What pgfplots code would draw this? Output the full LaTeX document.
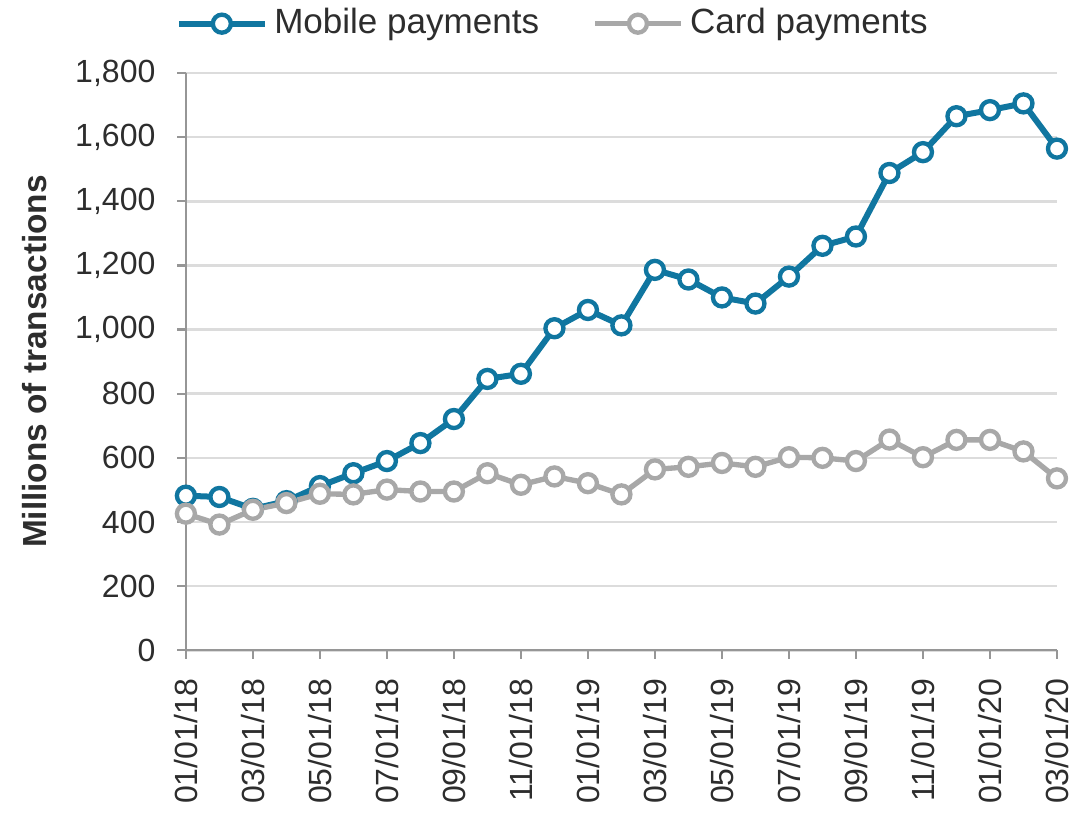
\documentclass[border=0pt]{standalone}
\usepackage{pgfplots}
\pgfplotsset{compat=1.18}
\usepackage{fontspec}
\setmainfont{Liberation Sans}
\definecolor{mob}{RGB}{16,118,160}
\definecolor{card}{RGB}{168,168,168}
\definecolor{gridc}{RGB}{220,220,220}
\definecolor{axc}{RGB}{150,150,150}
\definecolor{txt}{RGB}{45,45,45}

\pgfplotstableread{
idx mobile card
0 482 426
1 478 392
2 441 438
3 465 459
4 512 488
5 552 486
6 590 501
7 646 495
8 721 495
9 846 552
10 862 516
11 1004 542
12 1061 521
13 1013 486
14 1186 564
15 1156 572
16 1100 584
17 1081 572
18 1165 602
19 1261 600
20 1290 590
21 1488 657
22 1553 602
23 1665 656
24 1684 656
25 1705 620
26 1564 536
}\datatable

\begin{document}
\begin{tikzpicture}
\begin{axis}[
  name=ax,
  scale only axis,
  width=261pt, height=173pt,
  xmin=0, xmax=26, ymin=0, ymax=1800,
  axis lines=left,
  axis line style={-, draw=axc, line width=0.7pt},
  xtick={0,2,...,26},
  xticklabels={01/01/18,03/01/18,05/01/18,07/01/18,09/01/18,11/01/18,01/01/19,03/01/19,05/01/19,07/01/19,09/01/19,11/01/19,01/01/20,03/01/20},
  x tick label style={yshift=-2.5pt, rotate=90, anchor=east, font=\fontsize{9.6}{11}\selectfont, text=txt},
  ytick={0,200,...,1800},
  y tick label style={font=\fontsize{9.6}{11}\selectfont, text=txt, xshift=-3pt},
  /pgf/number format/.cd, 1000 sep={,}, assume math mode=true, /pgfplots/.cd,
  ymajorgrids,
  grid style={gridc, line width=0.8pt},
  tick align=outside,
  major tick length=2.6pt,
  tick style={axc, line width=0.7pt},
  ylabel={\textbf{Millions of transactions}},
  ylabel style={font=\fontsize{10}{12}\selectfont, text=txt, yshift=1.5pt},
  legend style={at={(0.424,1)}, anchor=south, yshift=6pt, draw=none, fill=none,
    font=\fontsize{10.5}{12}\selectfont, text=txt, /tikz/every even column/.append style={column sep=14pt}},
  legend columns=2,
  legend cell align=left,
  legend image code/.code={
    \draw[mark repeat=2, mark phase=2, #1] plot coordinates {(0cm,0cm) (0.45cm,0cm) (0.9cm,0cm)};
  },
  clip=false,
]
\addplot[mob, line width=1.8pt, mark=*, mark size=2.7pt,
  mark options={fill=white, draw=mob, line width=1.3pt}]
  table[x=idx, y=mobile] {\datatable};
\addlegendentry{Mobile payments}
\addplot[card, line width=1.6pt, mark=*, mark size=2.7pt,
  mark options={fill=white, draw=card, line width=1.3pt}]
  table[x=idx, y=card] {\datatable};
\addlegendentry{Card payments}
\end{axis}
\pgfresetboundingbox
\path[use as bounding box] ([xshift=-55.7pt,yshift=-48.5pt]ax.south west) rectangle ([xshift=9pt,yshift=21.85pt]ax.north east);
\end{tikzpicture}
\end{document}
